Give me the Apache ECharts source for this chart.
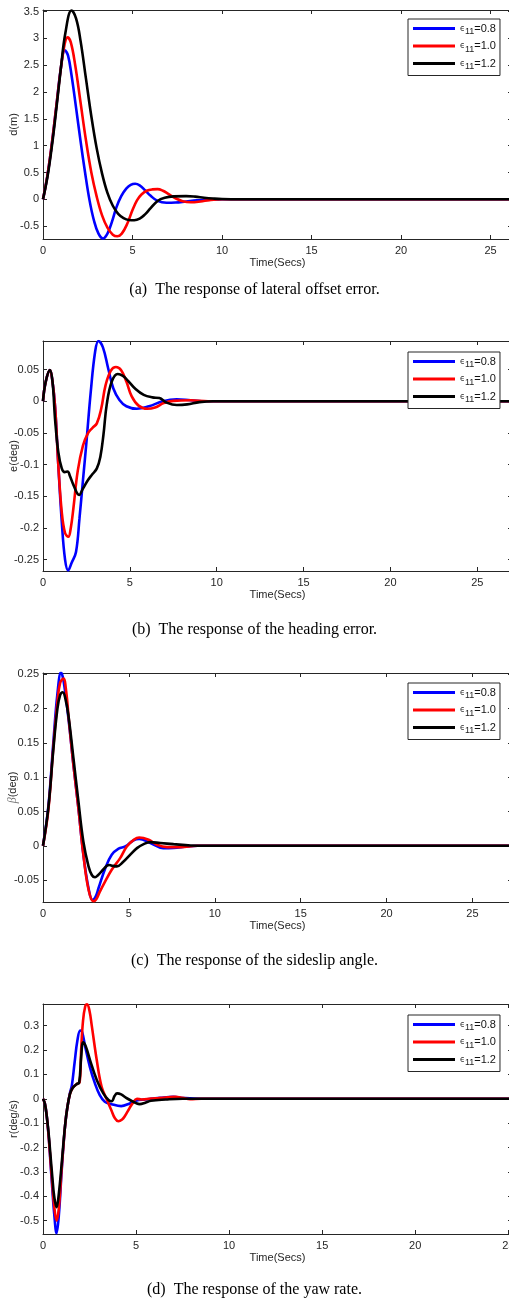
<!DOCTYPE html>
<html lang="en">
<head>
<meta charset="UTF-8">
<title>Response curves</title>
<script src="https://cdn.jsdelivr.net/npm/echarts@6/dist/echarts.min.js"></script>
<style>html,body{margin:0;padding:0;background:#fff;}</style>
</head>
<body>
<div id="main" style="width:509px;height:1305px;"></div>
<script>
// legend names (epsilon_11) and line colours
var eps = ['0.8', '1.0', '1.2'];
var colors = ['#0000ff', '#ff0000', '#000000'];
var timeTicks = [0, 5, 10, 15, 20, 25];

// (a) lateral offset error d(m)
var dBlue = [[0,0],[0.25,0.45],[0.5,1.05],[0.75,1.75],[1.0,2.45],[1.22,2.78],[1.4,2.68],[1.6,2.3],[1.85,1.7],[2.1,1.08],[2.35,0.5],[2.6,-0.02],[2.85,-0.4],[3.1,-0.64],[3.35,-0.73],[3.6,-0.64],[3.85,-0.42],[4.1,-0.15],[4.37,0.06],[4.65,0.2],[4.9,0.27],[5.15,0.29],[5.4,0.26],[5.7,0.17],[6.0,0.07],[6.4,-0.03],[6.9,-0.065],[7.4,-0.06],[8.0,-0.04],[8.6,-0.02],[9.2,-0.005],[10,0],[26.2,0]];
var dRed = [[0,0],[0.25,0.45],[0.5,1.05],[0.75,1.75],[1.0,2.45],[1.2,2.88],[1.37,3.02],[1.55,2.93],[1.8,2.5],[2.1,1.8],[2.4,1.1],[2.7,0.5],[3.0,0.05],[3.3,-0.3],[3.6,-0.53],[3.9,-0.66],[4.15,-0.69],[4.4,-0.64],[4.7,-0.46],[5.0,-0.2],[5.25,-0.02],[5.5,0.09],[5.8,0.16],[6.1,0.185],[6.4,0.19],[6.7,0.16],[7.0,0.1],[7.4,0.02],[7.8,-0.035],[8.26,-0.055],[8.8,-0.04],[9.3,-0.015],[10,0],[26.2,0]];
var dBlack = [[0,0],[0.25,0.42],[0.5,1.0],[0.75,1.7],[1.0,2.45],[1.25,3.1],[1.59,3.52],[1.85,3.37],[2.1,2.95],[2.4,2.25],[2.7,1.55],[3.0,0.95],[3.3,0.48],[3.6,0.12],[3.9,-0.12],[4.2,-0.27],[4.5,-0.35],[4.8,-0.385],[5.1,-0.39],[5.4,-0.36],[5.7,-0.28],[6.0,-0.17],[6.4,-0.03],[6.8,0.03],[7.3,0.055],[8.0,0.06],[8.5,0.05],[9.0,0.03],[9.5,0.015],[10,0.005],[11,0],[26.2,0]];
var dTicks = [-0.5, 0, 0.5, 1, 1.5, 2, 2.5, 3, 3.5];

// (b) heading error e(deg)
var eBlue = [[0,0],[0.15,0.03],[0.4,0.049],[0.55,0.03],[0.7,-0.01],[0.88,-0.1],[1.08,-0.19],[1.27,-0.25],[1.45,-0.267],[1.65,-0.255],[1.9,-0.238],[2.1,-0.185],[2.3,-0.125],[2.5,-0.065],[2.75,0.015],[3.0,0.078],[3.19,0.095],[3.45,0.085],[3.75,0.052],[4.05,0.02],[4.4,0.002],[4.8,-0.008],[5.4,-0.012],[6.1,-0.008],[6.9,0],[7.7,0.003],[8.5,0.0015],[9.4,0],[27,0]];
var eRed = [[0,0],[0.15,0.03],[0.4,0.049],[0.55,0.03],[0.7,-0.01],[0.88,-0.1],[1.08,-0.175],[1.27,-0.208],[1.46,-0.214],[1.6,-0.2],[1.75,-0.169],[2.0,-0.11],[2.3,-0.07],[2.6,-0.05],[2.85,-0.042],[3.1,-0.035],[3.35,-0.012],[3.6,0.025],[3.9,0.048],[4.2,0.054],[4.5,0.049],[4.8,0.031],[5.1,0.008],[5.5,-0.007],[6.0,-0.012],[6.45,-0.01],[6.95,-0.003],[7.5,0.0005],[8.5,0.0015],[9.5,0],[27,0]];
var eBlack = [[0,0],[0.15,0.03],[0.4,0.049],[0.55,0.03],[0.69,-0.027],[0.88,-0.08],[1.08,-0.106],[1.25,-0.112],[1.42,-0.111],[1.55,-0.118],[1.75,-0.132],[2.08,-0.148],[2.3,-0.138],[2.6,-0.124],[2.85,-0.115],[3.1,-0.106],[3.3,-0.088],[3.48,-0.053],[3.67,-0.005],[3.96,0.031],[4.3,0.043],[4.6,0.04],[4.9,0.032],[5.3,0.02],[5.8,0.01],[6.3,0.006],[6.7,0.005],[7.1,-0.002],[7.7,-0.006],[8.3,-0.005],[9.0,-0.0015],[9.8,0],[27,0]];
var eTicks = [-0.25, -0.2, -0.15, -0.1, -0.05, 0, 0.05];

// (c) sideslip angle beta(deg)
var bBlue = [[0,0],[0.31,0.057],[0.6,0.15],[0.84,0.222],[1.05,0.253],[1.2,0.24],[1.48,0.186],[1.77,0.118],[2.06,0.055],[2.35,-0.013],[2.65,-0.062],[2.88,-0.079],[3.05,-0.075],[3.23,-0.062],[3.62,-0.033],[4.0,-0.013],[4.4,-0.004],[4.79,-0.001],[5.27,0.008],[5.6,0.01],[6.25,0.004],[7.0,-0.0035],[7.6,-0.003],[8.4,-0.001],[9,0],[27.3,0]];
var bRed = [[0,0],[0.31,0.052],[0.6,0.143],[0.84,0.21],[1.0,0.238],[1.19,0.244],[1.35,0.225],[1.5,0.185],[1.77,0.118],[2.06,0.055],[2.35,-0.013],[2.65,-0.064],[2.94,-0.081],[3.1,-0.078],[3.29,-0.068],[3.62,-0.052],[4.0,-0.035],[4.49,-0.018],[4.88,-0.001],[5.3,0.009],[5.6,0.012],[6.15,0.0087],[6.63,0.0015],[7.22,-0.002],[8.0,-0.002],[9,0],[27.3,0]];
var bBlack = [[0,0],[0.31,0.055],[0.6,0.14],[0.84,0.2],[1.0,0.22],[1.15,0.224],[1.3,0.215],[1.48,0.19],[1.77,0.128],[2.06,0.065],[2.35,0.006],[2.65,-0.03],[2.85,-0.043],[3.03,-0.046],[3.2,-0.043],[3.42,-0.037],[3.72,-0.029],[3.85,-0.028],[4.0,-0.029],[4.3,-0.03],[4.69,-0.023],[5.08,-0.013],[5.47,-0.0034],[5.86,0.0024],[6.25,0.0053],[6.83,0.004],[7.6,0.0024],[8.6,0.0005],[9.5,0],[27.3,0]];
var bTicks = [-0.05, 0, 0.05, 0.1, 0.15, 0.2, 0.25];

// (d) yaw rate r(deg/s)
var rBlue = [[0,0],[0.1,-0.02],[0.2,-0.07],[0.3,-0.15],[0.4,-0.26],[0.5,-0.37],[0.6,-0.47],[0.73,-0.552],[0.85,-0.48],[1.0,-0.3],[1.1,-0.19],[1.2,-0.1],[1.3,-0.04],[1.45,0.025],[1.55,0.055],[1.7,0.15],[1.85,0.24],[2.0,0.28],[2.1,0.275],[2.25,0.22],[2.52,0.13],[2.79,0.063],[3.05,0.015],[3.32,-0.012],[3.68,-0.022],[4.2,-0.03],[4.66,-0.019],[5.0,-0.008],[5.5,-0.003],[6.3,0.004],[7.0,0.008],[7.6,0.003],[8.5,0],[25.2,0]];
var rRed = [[0,0],[0.1,-0.02],[0.2,-0.07],[0.3,-0.15],[0.4,-0.25],[0.5,-0.35],[0.6,-0.44],[0.73,-0.5],[0.85,-0.45],[1.0,-0.29],[1.1,-0.19],[1.2,-0.1],[1.3,-0.04],[1.45,0.02],[1.6,0.045],[1.8,0.06],[1.97,0.068],[2.05,0.2],[2.15,0.32],[2.27,0.38],[2.37,0.388],[2.5,0.36],[2.62,0.3],[2.89,0.158],[3.15,0.049],[3.44,-0.005],[3.69,-0.05],[3.85,-0.078],[4.05,-0.092],[4.25,-0.085],[4.41,-0.07],[4.6,-0.045],[4.8,-0.02],[5.05,0],[5.3,-0.003],[5.8,0.001],[6.2,0.003],[6.7,0.006],[7.1,0.008],[7.5,0.004],[7.9,-0.002],[8.5,0],[25.2,0]];
var rBlack = [[0,0],[0.1,-0.02],[0.2,-0.07],[0.3,-0.14],[0.4,-0.23],[0.5,-0.32],[0.6,-0.4],[0.73,-0.445],[0.85,-0.39],[1.0,-0.27],[1.1,-0.18],[1.2,-0.1],[1.3,-0.04],[1.45,0.02],[1.6,0.045],[1.8,0.06],[1.94,0.066],[2.05,0.17],[2.16,0.232],[2.3,0.215],[2.53,0.158],[2.89,0.077],[3.24,0.022],[3.52,-0.005],[3.69,-0.01],[3.85,0.012],[3.98,0.022],[4.2,0.018],[4.45,0.005],[4.7,-0.006],[5.0,-0.018],[5.2,-0.022],[5.5,-0.016],[5.8,-0.008],[6.6,-0.003],[7.5,0],[25.2,0]];
var rTicks = [-0.5, -0.4, -0.3, -0.2, -0.1, 0, 0.1, 0.2, 0.3];

var panels = [
  { top: 10, height: 229, xMax: 26.2, yMin: -0.74, yMax: 3.53, yTicks: dTicks, yName: 'd(m)',
    lines: [dBlue, dRed, dBlack], caption: '(a)  The response of lateral offset error.', captionTop: 282, legendTop: 19 },
  { top: 341, height: 230, xMax: 27.0, yMin: -0.268, yMax: 0.095, yTicks: eTicks, yName: 'e(deg)',
    lines: [eBlue, eRed, eBlack], caption: '(b)  The response of the heading error.', captionTop: 622, legendTop: 352 },
  { top: 673, height: 229, xMax: 27.3, yMin: -0.082, yMax: 0.252, yTicks: bTicks, yName: '{b|β}(deg)',
    lines: [bBlue, bRed, bBlack], caption: '(c)  The response of the sideslip angle.', captionTop: 953, legendTop: 683 },
  { top: 1004, height: 230, xMax: 25.2, yMin: -0.555, yMax: 0.389, yTicks: rTicks, yName: 'r(deg/s)',
    lines: [rBlue, rRed, rBlack], caption: '(d)  The response of the yaw rate.', captionTop: 1282, legendTop: 1015 }
];

var axisColor = '#262626';
var font = 'Liberation Sans';

var option = {
  animation: false,
  backgroundColor: '#fff',
  grid: [], xAxis: [], yAxis: [], series: [], legend: [], title: []
};

panels.forEach(function (p, i) {
  option.grid.push({ left: 43, top: p.top, width: 469, height: p.height,
    containLabel: false, outerBoundsMode: 'none' });
  var tick = { show: true, inside: true, length: 4, lineStyle: { color: axisColor } };
  var line = { show: true, onZero: false, lineStyle: { color: axisColor, width: 1 } };
  // bottom + top x axes
  option.xAxis.push({
    type: 'value', gridIndex: i, min: 0, max: p.xMax, position: 'bottom',
    axisLine: line, splitLine: { show: false },
    axisTick: Object.assign({ customValues: timeTicks }, tick),
    axisLabel: { customValues: timeTicks, color: axisColor, fontFamily: font, fontSize: 11, margin: 6 },
    name: 'Time(Secs)', nameLocation: 'middle', nameGap: 18, nameMoveOverlap: false,
    nameTextStyle: { color: axisColor, fontFamily: font, fontSize: 11 }
  });
  option.xAxis.push({
    type: 'value', gridIndex: i, min: 0, max: p.xMax, position: 'top',
    axisLine: line, splitLine: { show: false },
    axisTick: Object.assign({ customValues: timeTicks }, tick),
    axisLabel: { show: false }
  });
  // left + right y axes
  option.yAxis.push({
    type: 'value', gridIndex: i, min: p.yMin, max: p.yMax, position: 'left',
    axisLine: line, splitLine: { show: false },
    axisTick: Object.assign({ customValues: p.yTicks }, tick),
    axisLabel: { customValues: p.yTicks, color: axisColor, fontFamily: font, fontSize: 11, margin: 4,
      formatter: function (v) { return String(v); } },
    name: p.yName, nameLocation: 'middle', nameGap: 24, nameMoveOverlap: false,
    nameTextStyle: { color: axisColor, fontFamily: font, fontSize: 11,
      rich: { b: { fontFamily: 'Liberation Serif', fontStyle: 'italic', fontSize: 12, color: '#777' } } }
  });
  option.yAxis.push({
    type: 'value', gridIndex: i, min: p.yMin, max: p.yMax, position: 'right',
    axisLine: line, splitLine: { show: false },
    axisTick: Object.assign({ customValues: p.yTicks }, tick),
    axisLabel: { show: false }
  });
  p.lines.forEach(function (data, j) {
    option.series.push({
      type: 'line', name: eps[j], xAxisIndex: i * 2, yAxisIndex: i * 2,
      data: data, showSymbol: false, symbol: 'none',
      smooth: 0.4,
      lineStyle: { color: colors[j], width: 2.6 }, itemStyle: { color: colors[j] }
    });
  });
  option.legend.push({
    orient: 'vertical', left: 408, top: p.legendTop, data: eps,
    icon: 'rect', itemWidth: 42, itemHeight: 3, itemGap: 4,
    padding: [4, 4, 4, 5], borderColor: axisColor, borderWidth: 1, backgroundColor: '#fff',
    selectedMode: false,
    formatter: function (n) { return '{e|\u03f5}{s|11}{v|=' + n + '}'; },
    textStyle: {
      rich: {
        e: { fontSize: 8, fontFamily: 'DejaVu Sans', color: '#222', lineHeight: 16 },
        s: { fontSize: 9, fontFamily: font, color: '#222', lineHeight: 9, verticalAlign: 'bottom' },
        v: { fontSize: 11, fontFamily: font, color: '#111', lineHeight: 16 }
      }
    }
  });
  option.title.push({
    text: p.caption, left: 'center', top: p.captionTop, padding: 0,
    textStyle: { fontFamily: 'Liberation Serif', fontSize: 16, fontWeight: 'normal', color: '#000' }
  });
});

var chart = echarts.init(document.getElementById('main'));
chart.setOption(option);
</script>
</body>
</html>
